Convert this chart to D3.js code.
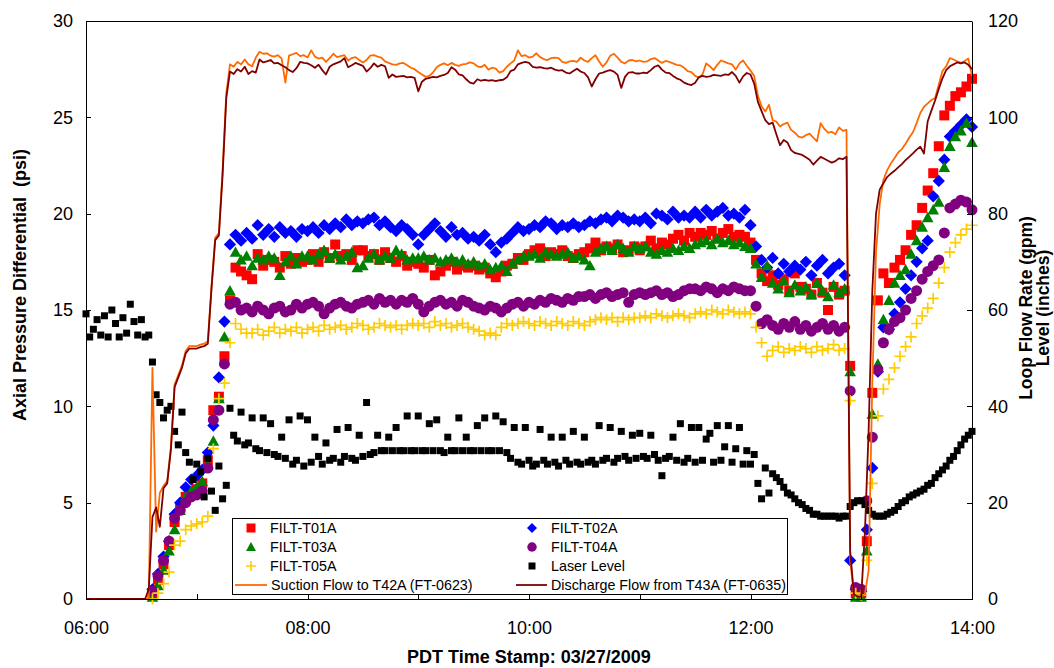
<!DOCTYPE html>
<html>
<head>
<meta charset="utf-8">
<script src="https://cdnjs.cloudflare.com/ajax/libs/d3/7.8.5/d3.min.js"></script>
<style>
  body { margin: 0; background: #fff; }
  svg { display: block; }
  text { font-family: "Liberation Sans", Arial, Helvetica, sans-serif; fill: #000; }
</style>
</head>
<body>
<svg id="chart" width="1054" height="668"></svg>
<script>
// ---- Sampling grids (minutes after 06:00 on 03/27/2009) ----
const lineMinutes = d3.range(0, 481, 2);   // flows and laser level, every 2 min
const filtMinutes = d3.range(0, 481, 3);   // filter differential pressures, every 3 min

// ---- Loop flow rates (gpm), right axis ----
const suctionFlow = [
  0,0,0,0,0,0,0,0,0,0,0,0,0,0,0,
  0,0,0,48,14,22,23.5,24.5,31.5,44.5,46.5,48.5,51.5,52.5,52.5,
  52.5,52.8,53,53.5,65,75,76,89,105,111,110.5,111.5,111,112,111,
  110.6,112.4,113.6,113.2,113.3,112.8,112.6,112.9,112.2,107.2,112.8,113.1,113.4,112.7,112.9,
  112.4,113.9,112.6,112.2,112.4,111.5,112.3,113.2,112.5,112.7,112.9,111.8,112.3,112.5,111.9,
  111.4,111.9,112.8,112.9,112.6,112.4,111.6,111.3,111.0,110.9,111.2,111.3,110.8,110.3,110.0,
  109.4,108.9,108.4,108.6,109.3,110.4,110.9,111.2,110.8,111.3,110.9,110.7,111.0,111.1,111.4,
  111.2,110.6,110.4,110.9,109.9,110.3,110.1,109.3,109.6,110.5,111.2,111.8,113.9,112.7,112.9,
  112.4,112.6,113.3,112.5,112.1,111.9,112.3,112.4,112.3,111.5,111.3,111.6,111.7,111.5,112.4,
  111.8,111.5,112.3,112.9,111.6,110.5,111.4,112.8,113.2,112.4,111.5,111.2,111.8,111.9,111.6,
  111.8,111.5,111.6,112.1,112.3,111.8,111.3,111.7,111.5,111.2,110.9,110.8,110.3,109.6,109.4,
  108.6,108.3,108.9,111.2,110.6,109.8,110.9,111.8,111.5,111.2,111.0,109.9,111.2,111.8,110.7,
  109.7,108.6,104.5,102.3,101.2,102.6,99.4,99.1,98.1,98.6,98.9,97.4,96.8,96.0,95.8,
  96.3,96.6,95.8,95.0,98.8,97.6,96.8,97.0,96.5,97.9,97.2,97.4,8.0,1.0,0.5,
  0.5,1.0,6.0,45.0,72.0,82.0,87.0,89.0,90.4,91.5,92.7,93.4,94.5,95.8,96.9,
  98.8,100.9,102.2,102.9,103.6,104.0,106.8,109.6,110.6,112.3,112.0,111.6,111.3,111.7,112.2,
  108.6
];
const dischargeFlow = [
  0,0,0,0,0,0,0,0,0,0,0,0,0,0,0,
  0,0,2,17,19,15,23,24,31,44,46,48,51,52,52,
  52,52.3,52.5,53,64.5,74.5,75.5,88,104,109.5,109,110,109.5,110.5,109,
  109.6,109.3,112.0,111.4,111.6,111.9,111.2,111.3,110.8,110.4,109.8,109.4,110.2,111.5,111.3,
  111.2,110.8,110.3,110.9,109.8,108.9,110.5,111.0,111.3,111.6,112.3,110.4,110.8,111.3,111.0,
  110.7,109.5,110.2,111.2,110.5,110.9,110.6,108.2,108.9,108.4,108.5,108.6,108.3,108.4,108.2,
  105.4,107.4,108.0,108.2,108.4,108.3,108.6,108.8,109.2,110.4,109.9,108.9,108.7,107.9,107.2,
  107.0,107.9,107.6,107.8,107.6,107.7,107.5,107.7,107.8,108.3,109.6,109.9,111.0,111.3,111.5,
  111.3,110.5,110.3,110.4,110.2,110.1,110.3,109.9,109.7,109.8,109.3,109.1,109.6,110.1,109.5,
  109.2,108.3,106.4,107.9,109.1,109.3,109.6,109.8,109.5,108.8,106.1,108.4,109.3,109.4,109.1,
  109.1,109.3,109.2,109.8,110.5,110.8,109.9,109.3,109.2,108.6,108.1,107.8,107.2,106.9,106.7,
  107.2,108.3,108.6,108.4,108.5,108.8,108.7,108.6,108.9,108.8,109.4,108.6,107.2,108.5,109.2,
  108.9,107.0,103.2,101.3,99.4,98.6,98.9,96.5,94.2,95.3,94.8,93.2,92.6,92.4,92.2,
  91.7,91.2,90.2,91.0,91.8,91.4,91.0,90.6,90.9,91.5,91.3,91.8,10.0,1.0,0.5,
  0.5,14.0,35.0,64.0,80.0,85.0,86.3,87.6,88.3,88.9,89.6,90.3,91.1,91.8,92.5,
  93.3,93.9,92.5,99.2,101.4,103.5,105.9,108.1,109.8,110.6,111.0,111.4,111.2,111.4,110.9,
  110.0
];

// ---- Laser level (inches), right axis ----
const laserLevel = [
  59.2,54.4,56.0,58.0,54.8,58.8,54.4,60.0,57.2,54.4,58.4,55.2,61.2,57.6,54.8,
  58.0,54.4,54.8,49.2,42.4,40.8,37.6,39.2,40.0,34.8,32.0,38.8,30.4,28.4,24.8,
  28.0,26.4,21.2,29.2,22.4,18.4,27.6,20.8,23.6,39.6,34.0,32.8,38.8,32.0,32.4,
  37.6,31.2,30.8,37.6,30.4,36.4,30.0,29.6,33.6,29.2,37.2,28.0,28.8,38.0,27.6,
  37.2,28.4,33.6,29.6,28.0,32.4,28.8,29.2,35.2,28.4,29.6,35.6,29.2,28.8,34.0,
  29.6,40.8,30.0,30.4,34.0,30.8,30.8,33.6,30.8,35.6,30.8,30.8,38.0,30.8,30.8,
  38.0,30.8,30.8,36.4,30.8,37.2,30.8,30.4,33.6,30.8,30.8,37.6,30.8,33.6,30.8,
  30.8,36.0,30.8,37.6,30.8,30.8,38.0,30.8,36.8,30.4,29.2,35.6,28.4,28.0,35.6,
  28.8,27.6,28.0,35.2,28.8,28.0,33.6,28.4,27.6,33.6,28.8,28.0,34.8,28.4,28.0,
  33.6,28.4,28.8,28.0,36.0,28.8,29.2,35.6,28.4,29.2,34.8,29.6,28.8,34.0,29.2,
  34.4,29.6,29.2,34.0,30.0,28.8,25.6,29.2,29.6,33.6,28.8,36.4,28.4,29.2,35.6,
  28.4,35.6,28.8,33.2,34.4,28.4,36.0,28.8,31.6,36.0,28.4,31.2,35.6,28.0,30.8,
  28.0,30.0,24.0,20.8,27.2,22.0,26.0,25.2,24.4,23.2,22.0,21.6,20.8,20.0,19.6,
  18.8,18.4,17.6,17.6,17.2,17.2,17.2,17.2,17.2,16.8,17.2,17.2,19.2,20.0,20.4,
  20.4,19.6,18.4,17.6,17.2,17.2,17.2,17.6,18.0,18.4,19.2,20.0,20.4,21.2,21.6,
  22.0,22.4,22.8,23.6,24.0,25.2,26.0,26.8,27.6,28.8,29.6,30.8,32.0,33.2,34.0,
  34.8
];

// ---- Axial pressure differentials (psi), left axis ----
const filtT01A = [
  null,null,null,null,null,null,null,null,null,null,
  null,null,0.3,1.0,1.8,2.8,4.0,4.7,5.3,5.5,
  5.7,6.0,7.2,9.8,10.5,12.6,15.5,17.2,17.0,16.8,
  16.6,17.9,17.3,17.6,17.5,17.2,17.8,17.4,17.7,17.5,
  17.6,17.9,17.5,18.0,17.7,18.4,17.8,17.9,17.6,18.1,
  18.1,17.8,17.9,17.6,18.0,17.7,17.5,17.8,17.3,17.5,
  17.4,17.2,17.6,16.8,17.0,17.3,17.5,17.1,17.3,17.2,
  17.3,17.1,17.2,16.9,16.7,17.0,17.3,17.4,17.7,17.6,
  17.9,18.1,18.2,17.8,18.0,17.9,18.1,17.8,17.7,17.9,
  18.0,18.2,18.5,18.1,18.3,18.2,18.4,18.0,18.1,18.3,
  18.1,18.3,18.6,18.2,18.5,18.4,18.7,18.9,18.6,19.0,
  18.8,19.0,18.9,19.1,18.7,19.0,19.2,18.8,18.9,18.8,
  18.5,17.6,16.9,16.5,16.8,16.3,16.6,16.0,16.9,16.2,
  16.1,15.8,16.4,15.9,15.0,16.2,15.8,16.0,12.1,0.3,
  0.3,3.0,10.7,15.5,16.9,16.4,17.2,17.6,18.1,18.9,
  19.4,20.3,21.2,22.1,23.5,25.1,25.6,26.1,26.3,26.6,
  27.0
];
const filtT02A = [
  null,null,null,null,null,null,null,null,null,null,
  null,null,0.5,1.3,2.2,3.0,4.4,5.0,5.8,6.2,
  6.4,6.7,7.6,9.0,11.5,14.4,18.4,18.9,18.6,19.0,
  18.7,19.4,18.9,19.2,18.8,19.3,19.0,19.1,18.8,19.2,
  19.1,19.3,19.0,19.4,19.2,19.5,19.3,19.7,19.4,19.6,
  19.5,19.7,19.8,19.4,19.6,19.3,19.1,19.4,19.2,18.9,
  18.4,18.9,19.2,19.5,19.1,18.8,19.3,18.9,19.0,18.7,
  18.8,18.6,18.9,18.4,18.0,18.5,18.7,19.0,19.3,19.1,
  19.2,19.4,19.3,19.6,19.5,19.2,19.4,19.3,19.5,19.3,
  19.4,19.6,19.5,19.7,19.8,19.6,19.9,19.8,19.6,19.7,
  19.6,19.8,19.5,20.0,19.9,19.7,20.1,19.8,19.9,19.8,
  20.1,19.8,20.2,19.9,20.1,20.3,19.9,20.0,19.8,20.2,
  19.4,18.3,17.6,17.2,17.7,16.9,17.4,17.0,17.3,17.1,
  17.5,16.8,17.3,17.6,16.9,17.2,17.4,16.8,2.0,0.5,
  0.4,3.6,6.8,11.8,14.1,14.0,14.8,15.4,16.1,16.8,
  17.5,18.2,18.6,20.9,21.7,22.8,24.0,24.3,24.6,24.9,
  24.5
];
const filtT03A = [
  null,null,null,null,null,null,null,null,null,null,
  null,null,0.1,0.7,1.5,2.5,3.6,4.6,5.3,5.6,
  5.8,6.1,7.0,8.2,10.4,13.6,16.0,18.0,17.6,17.8,
  17.3,17.7,17.6,17.8,17.7,16.8,17.5,17.8,17.4,17.8,
  17.8,17.6,17.9,18.1,17.7,17.9,17.6,17.8,18.0,17.2,
  17.3,17.7,17.9,17.6,17.8,17.7,18.1,17.9,17.6,17.7,
  17.7,17.8,17.6,17.7,17.5,17.6,17.7,17.5,17.6,17.4,
  17.5,17.3,17.4,17.1,17.2,17.3,17.0,17.4,17.6,17.8,
  17.8,17.9,17.7,18.0,17.9,17.8,17.9,18.0,17.7,17.8,
  17.6,17.3,18.0,18.2,18.3,18.1,18.4,18.2,18.0,18.3,
  18.2,18.3,18.0,17.9,18.1,18.0,18.2,18.1,18.3,18.2,
  18.4,18.5,18.6,18.4,18.7,18.5,18.6,18.4,18.5,18.3,
  18.2,17.4,16.7,17.3,16.4,16.1,16.5,15.9,16.3,16.0,
  16.2,15.8,16.4,16.0,15.7,16.3,15.9,16.1,11.8,0.1,
  0.1,2.5,9.6,12.2,14.5,15.5,16.4,16.8,17.1,17.9,
  18.6,19.3,19.8,20.2,20.6,22.4,23.5,24.0,24.3,24.7,
  23.7
];
const filtT04A = [
  null,null,null,null,null,null,null,null,null,null,
  null,null,0.4,1.2,2.0,3.0,4.2,4.6,5.0,5.3,
  5.4,5.6,6.8,9.3,9.8,12.2,15.3,15.4,15.0,15.1,
  14.9,15.2,15.0,14.8,15.1,15.2,14.9,15.0,15.3,15.1,
  15.3,15.4,15.2,14.8,15.1,15.3,15.4,15.2,15.1,15.3,
  15.4,15.5,15.3,15.6,15.4,15.5,15.3,15.5,15.4,15.6,
  15.3,14.9,15.2,15.4,15.5,15.3,15.4,15.2,15.5,15.4,
  15.2,15.1,15.0,15.2,15.1,14.9,15.1,15.3,15.4,15.2,
  15.4,15.3,15.5,15.4,15.6,15.5,15.4,15.6,15.5,15.7,
  15.7,15.8,15.6,15.8,15.9,15.7,15.8,15.9,15.4,15.8,
  15.9,15.8,15.9,16.0,15.8,15.9,15.7,15.8,16.0,16.1,
  16.1,16.0,16.2,16.1,15.9,16.1,16.0,16.2,16.1,16.0,
  16.0,15.2,14.3,14.5,14.2,14.0,14.3,14.1,14.4,14.0,
  14.2,13.9,14.1,14.3,14.0,14.2,13.9,14.1,10.8,0.6,
  0.5,5.1,8.4,11.9,13.3,14.0,14.4,14.6,15.0,15.6,
  16.0,16.6,17.0,17.3,17.6,19.0,20.3,20.5,20.7,20.6,
  20.2
];
const filtT05A = [
  null,null,null,null,null,null,null,null,null,null,
  null,null,0.0,0.3,0.8,1.4,2.8,3.0,3.6,3.8,
  3.9,4.0,4.3,7.8,10.4,11.2,13.3,14.3,14.0,13.8,
  13.8,14.0,13.7,13.9,14.1,13.8,14.0,13.9,14.1,13.8,
  14.0,14.1,13.9,14.2,14.0,14.1,14.2,14.0,14.1,14.3,
  14.2,14.0,14.1,14.3,14.2,14.1,14.2,14.0,14.2,14.3,
  14.2,14.3,14.1,14.4,14.2,14.3,14.1,14.2,14.3,14.1,
  14.0,13.9,13.7,13.8,13.7,14.1,14.3,14.2,14.3,14.4,
  14.3,14.2,14.4,14.3,14.2,14.4,14.3,14.2,14.4,14.3,
  14.2,14.4,14.5,14.6,14.5,14.6,14.4,14.6,14.5,14.6,
  14.6,14.7,14.6,14.8,14.7,14.6,14.7,14.8,14.7,14.6,
  14.8,14.9,14.8,15.0,14.9,14.8,15.0,14.9,14.8,14.9,
  14.8,14.1,13.3,12.6,12.9,13.1,12.8,13.0,12.9,13.1,
  13.0,12.8,13.1,12.9,13.0,13.2,12.9,13.0,10.3,0.3,
  0.2,2.0,6.0,9.5,10.9,11.4,12.0,12.6,13.1,13.6,
  14.3,14.7,15.1,15.6,16.4,17.2,18.0,18.5,18.9,19.2,
  19.4
];

// ---- Axis ticks ----
const leftTicks = [0, 5, 10, 15, 20, 25, 30];
const rightTicks = [0, 20, 40, 60, 80, 100, 120];
const hourTicks = [6, 7, 8, 9, 10, 11, 12, 13, 14];

// ---- Layout ----
const plot = { left: 86, right: 972, top: 21, bottom: 599 };
const at = m => new Date(2009, 2, 27, 6, m);

const svg = d3.select("#chart");

const x = d3.scaleTime()
  .domain([at(0), at(480)])
  .range([plot.left, plot.right]);
const yLeft = d3.scaleLinear().domain([0, 30]).range([plot.bottom, plot.top]);
const yRight = d3.scaleLinear().domain([0, 120]).range([plot.bottom, plot.top]);

// ---- Marker shapes ----
const squareSym = { draw(c, s) { const r = Math.sqrt(s) / 2; c.rect(-r, -r, 2 * r, 2 * r); } };
const diamondSym = { draw(c, s) { const r = Math.sqrt(s) / 2; c.moveTo(0, -r); c.lineTo(r, 0); c.lineTo(0, r); c.lineTo(-r, 0); c.closePath(); } };
const triangleSym = { draw(c, s) { const r = Math.sqrt(s) / 2; c.moveTo(0, -r); c.lineTo(r, r * 0.8); c.lineTo(-r, r * 0.8); c.closePath(); } };
const circleSym = { draw(c, s) { const r = Math.sqrt(s) / 2; c.moveTo(r, 0); c.arc(0, 0, r, 0, 2 * Math.PI); c.closePath(); } };
const plusSym = { draw(c, s) { const r = Math.sqrt(s) / 2; c.moveTo(-r, 0); c.lineTo(r, 0); c.moveTo(0, -r); c.lineTo(0, r); } };

const scatterSeries = [
  { name: "FILT-T01A", values: filtT01A, minutes: filtMinutes, y: yLeft, sym: squareSym, size: 100, legendSize: 81, color: "#ff0000" },
  { name: "FILT-T02A", values: filtT02A, minutes: filtMinutes, y: yLeft, sym: diamondSym, size: 150, legendSize: 100, color: "#0000ff" },
  { name: "FILT-T03A", values: filtT03A, minutes: filtMinutes, y: yLeft, sym: triangleSym, size: 135, legendSize: 100, color: "#008000" },
  { name: "FILT-T04A", values: filtT04A, minutes: filtMinutes, y: yLeft, sym: circleSym, size: 121, legendSize: 90, color: "#800080" },
  { name: "FILT-T05A", values: filtT05A, minutes: filtMinutes, y: yLeft, sym: plusSym, size: 121, legendSize: 100, color: "#ffcc00", stroke: true },
  { name: "Laser Level", values: laserLevel, minutes: lineMinutes, y: yRight, sym: squareSym, size: 49, legendSize: 49, color: "#000000" }
];
const lineSeries = [
  { name: "Suction Flow to T42A (FT-0623)", values: suctionFlow, minutes: lineMinutes, y: yRight, color: "#ff6a00" },
  { name: "Discharge Flow from T43A (FT-0635)", values: dischargeFlow, minutes: lineMinutes, y: yRight, color: "#800000" }
];

// ---- Plot frame (top edge; other edges come from the axes) ----
svg.append("line")
  .attr("x1", plot.left + 0.5).attr("x2", plot.right + 0.5)
  .attr("y1", plot.top + 0.5).attr("y2", plot.top + 0.5)
  .attr("stroke", "#000").attr("stroke-width", 1);

// ---- Scatter series ----
scatterSeries.forEach(s => {
  const pts = s.values.map((v, i) => ({ t: at(s.minutes[i]), v })).filter(d => d.v != null);
  const gen = d3.symbol().type(s.sym).size(s.size);
  svg.append("g")
    .selectAll("path")
    .data(pts)
    .join("path")
    .attr("transform", d => `translate(${x(d.t)},${s.y(d.v)})`)
    .attr("d", gen)
    .attr("fill", s.stroke ? "none" : s.color)
    .attr("stroke", s.stroke ? s.color : "none")
    .attr("stroke-width", s.stroke ? 1.7 : 0);
});

// ---- Flow lines ----
lineSeries.forEach(s => {
  const pts = s.values.map((v, i) => ({ t: at(s.minutes[i]), v }));
  const line = d3.line().x(d => x(d.t)).y(d => s.y(d.v));
  svg.append("path")
    .datum(pts)
    .attr("d", line)
    .attr("fill", "none")
    .attr("stroke", s.color)
    .attr("stroke-width", 1.8)
    .attr("stroke-linejoin", "round");
});

// ---- Axes ----
const fmt = d3.timeFormat("%H:%M");
const xAxis = d3.axisBottom(x)
  .tickValues(hourTicks.map(h => at((h - 6) * 60)))
  .tickFormat(d => d.getHours() % 2 === 0 ? fmt(d) : "")
  .tickSizeInner(-5).tickSizeOuter(0).tickPadding(22);
const leftAxis = d3.axisLeft(yLeft).tickValues(leftTicks)
  .tickSizeInner(-5).tickSizeOuter(0).tickPadding(13);
const rightAxis = d3.axisRight(yRight).tickValues(rightTicks)
  .tickSizeInner(-5).tickSizeOuter(0).tickPadding(16);

function styleAxis(g) {
  g.attr("font-family", null).attr("font-size", null);
  g.selectAll("path, line").attr("stroke", "#000").attr("shape-rendering", "crispEdges");
  g.selectAll("text").attr("font-size", 18).attr("fill", "#000");
}
svg.append("g").attr("transform", `translate(0,${plot.bottom})`).call(xAxis).call(styleAxis);
svg.append("g").attr("transform", `translate(${plot.left},0)`).call(leftAxis).call(styleAxis);
svg.append("g").attr("transform", `translate(${plot.right},0)`).call(rightAxis).call(styleAxis);

// ---- Axis titles ----
svg.append("text")
  .attr("x", (plot.left + plot.right) / 2).attr("y", 663)
  .attr("text-anchor", "middle").attr("font-size", 18).attr("font-weight", "bold")
  .text("PDT Time Stamp: 03/27/2009");
svg.append("text")
  .attr("transform", "translate(20,285) rotate(-90)")
  .attr("text-anchor", "middle").attr("dy", "0.35em")
  .attr("font-size", 18).attr("font-weight", "bold")
  .style("white-space", "pre")
  .text("Axial Pressure Differential  (psi)");
svg.append("text")
  .attr("transform", "translate(1026,308) rotate(-90)")
  .attr("text-anchor", "middle").attr("dy", "0.35em")
  .attr("font-size", 17.5).attr("font-weight", "bold")
  .text("Loop Flow Rate (gpm)");
svg.append("text")
  .attr("transform", "translate(1043,308) rotate(-90)")
  .attr("text-anchor", "middle").attr("dy", "0.35em")
  .attr("font-size", 17.5).attr("font-weight", "bold")
  .text("Level (inches)");

// ---- Legend ----
const legend = svg.append("g");
legend.append("rect")
  .attr("x", 232.5).attr("y", 518.5).attr("width", 555).attr("height", 76)
  .attr("fill", "#fff").attr("stroke", "#000").attr("stroke-width", 1);

const rowsY = [528, 547, 566, 585];
const legendItems = [
  { s: scatterSeries[0], col: 0, row: 0 },
  { s: scatterSeries[1], col: 1, row: 0 },
  { s: scatterSeries[2], col: 0, row: 1 },
  { s: scatterSeries[3], col: 1, row: 1 },
  { s: scatterSeries[4], col: 0, row: 2 },
  { s: scatterSeries[5], col: 1, row: 2 },
  { s: lineSeries[0], col: 0, row: 3, line: true },
  { s: lineSeries[1], col: 1, row: 3, line: true }
];
const colMarkX = [251, 532];
const colTextX = [270, 551];
const colLine = [[235, 267], [516, 547]];
legendItems.forEach(it => {
  const yy = rowsY[it.row];
  if (it.line) {
    legend.append("line")
      .attr("x1", colLine[it.col][0]).attr("x2", colLine[it.col][1])
      .attr("y1", yy).attr("y2", yy)
      .attr("stroke", it.s.color).attr("stroke-width", 1.8);
    legend.append("text").attr("x", colLine[it.col][1] + 4).attr("y", yy).attr("dy", "0.35em")
      .attr("font-size", 14.3).text(it.s.name);
  } else {
    const gen = d3.symbol().type(it.s.sym).size(it.s.legendSize);
    legend.append("path")
      .attr("transform", `translate(${colMarkX[it.col]},${yy})`)
      .attr("d", gen)
      .attr("fill", it.s.stroke ? "none" : it.s.color)
      .attr("stroke", it.s.stroke ? it.s.color : "none")
      .attr("stroke-width", it.s.stroke ? 1.6 : 0);
    legend.append("text").attr("x", colTextX[it.col]).attr("y", yy).attr("dy", "0.35em")
      .attr("font-size", 14.3).text(it.s.name);
  }
});
</script>
</body>
</html>
